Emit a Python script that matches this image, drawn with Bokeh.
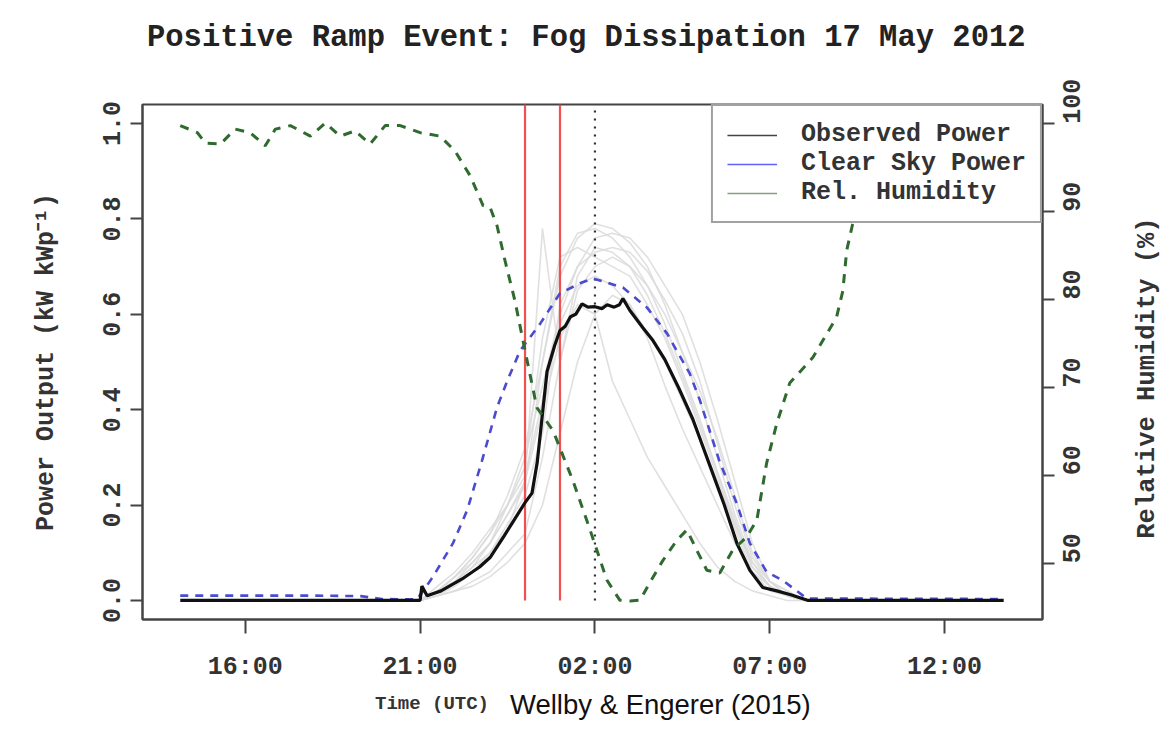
from bokeh.plotting import figure
from bokeh.models import Range1d, LinearAxis, FixedTicker, Legend, LegendItem, Div
from bokeh.layouts import column, row
from bokeh.embed import file_html
from bokeh.resources import INLINE
import math

# ---------------- data (hours since 00:00 UTC 16 May; 24 = 00:00 17 May) ----------------
obs_time = [14.14, 21.0, 21.05, 21.2, 21.6, 22.2, 22.7, 23.0, 23.4, 23.7, 24.0, 24.2, 24.35,
            24.63, 24.85, 25.0, 25.15, 25.3, 25.45, 25.63, 25.8, 26.0, 26.2, 26.35, 26.55,
            26.7, 26.8, 27.0, 27.37, 27.66, 28.0, 28.4, 28.8, 29.3, 29.7, 30.06, 30.43,
            30.8, 31.2, 31.6, 32.1, 37.69]
obs_power = [0.0, 0.0, 0.03, 0.01, 0.02, 0.045, 0.07, 0.09, 0.135, 0.17, 0.205, 0.225, 0.29,
             0.48, 0.535, 0.566, 0.575, 0.595, 0.6, 0.622, 0.615, 0.616, 0.612, 0.62, 0.615,
             0.62, 0.633, 0.608, 0.572, 0.545, 0.505, 0.445, 0.38, 0.28, 0.2, 0.12, 0.063,
             0.027, 0.02, 0.012, 0.0, 0.0]

clear_time = [14.14, 18.0, 19.3, 19.9, 20.9, 21.09, 21.37, 21.94, 22.35, 22.77, 23.2, 23.49,
              23.86, 24.43, 25.0, 25.57, 25.94, 26.14, 26.8, 27.49, 28.06, 28.71, 29.0,
              29.57, 30.06, 30.43, 30.91, 31.37, 32.06, 37.69]
clear_power = [0.01, 0.01, 0.009, 0.003, 0.002, 0.02, 0.05, 0.12, 0.19, 0.293, 0.405, 0.46,
               0.524, 0.58, 0.644, 0.665, 0.675, 0.671, 0.656, 0.614, 0.56, 0.476, 0.42,
               0.29, 0.203, 0.12, 0.06, 0.042, 0.004, 0.003]

rh_time = [14.14, 14.63, 14.86, 15.29, 15.71, 16.14, 16.57, 16.86, 17.29, 17.86, 18.29, 18.71,
           19.14, 19.57, 20.0, 20.43, 21.0, 21.57, 22.0, 22.43, 22.8, 23.0, 23.2, 23.43,
           23.71, 24.0, 24.34, 24.8, 25.37, 25.86, 26.34, 26.71, 27.0, 27.29, 27.57, 27.94,
           28.34, 28.63, 28.91, 29.2, 29.57, 29.94, 30.34, 30.63, 30.91, 31.2, 31.57, 32.23,
           32.91, 33.09, 33.2, 33.37, 33.8, 34.5, 35.5, 36.5, 37.69]
rh_value = [99.8, 99.0, 97.8, 97.7, 99.4, 99.0, 97.5, 99.4, 99.8, 98.6, 100.1, 98.6,
            99.2, 97.7, 99.8, 99.8, 99.0, 98.6, 96.9, 94.1, 90.7, 90.5, 88.4, 84.4,
            79.9, 74.2, 67.7, 65.1, 59.4, 53.8, 48.1, 45.8, 45.7, 45.8, 47.8, 50.3,
            52.6, 53.8, 51.5, 49.2, 48.9, 51.5, 53.0, 54.9, 61.4, 65.9, 70.5, 73.4,
            78.0, 81.0, 85.6, 88.6, 93.0, 96.0, 98.0, 99.0, 99.5]

# other days (grey background curves), half-hourly from 21:00 to 08:00
other_time = [21.0, 21.5, 22.0, 22.5, 23.0, 23.5, 24.0, 24.5, 25.0, 25.5, 26.0, 26.5, 27.0,
              27.5, 28.0, 28.5, 29.0, 29.5, 30.0, 30.5, 31.0, 31.5, 32.0]
other_days = [
    [0, 0.02, 0.05, 0.09, 0.14, 0.22, 0.32, 0.50, 0.68, 0.76, 0.79, 0.78, 0.75, 0.70, 0.62, 0.52, 0.42, 0.30, 0.18, 0.08, 0.03, 0.01, 0],
    [0, 0.02, 0.04, 0.08, 0.12, 0.20, 0.30, 0.45, 0.60, 0.70, 0.76, 0.77, 0.76, 0.72, 0.66, 0.60, 0.50, 0.38, 0.25, 0.12, 0.04, 0.01, 0],
    [0, 0.01, 0.03, 0.06, 0.10, 0.15, 0.25, 0.40, 0.55, 0.62, 0.60, 0.46, 0.38, 0.30, 0.24, 0.18, 0.12, 0.07, 0.04, 0.02, 0.01, 0, 0],
    [0, 0.03, 0.06, 0.10, 0.15, 0.20, 0.28, 0.55, 0.72, 0.74, 0.72, 0.70, 0.68, 0.62, 0.55, 0.46, 0.36, 0.26, 0.15, 0.06, 0.02, 0.01, 0],
    [0, 0.01, 0.02, 0.04, 0.06, 0.10, 0.14, 0.30, 0.50, 0.65, 0.70, 0.72, 0.70, 0.66, 0.60, 0.52, 0.44, 0.34, 0.22, 0.10, 0.04, 0.01, 0],
    [0, 0.02, 0.05, 0.08, 0.12, 0.18, 0.25, 0.78, 0.50, 0.68, 0.74, 0.73, 0.70, 0.64, 0.56, 0.47, 0.37, 0.27, 0.17, 0.07, 0.03, 0.01, 0],
    [0, 0.02, 0.04, 0.07, 0.10, 0.16, 0.22, 0.35, 0.62, 0.70, 0.73, 0.74, 0.73, 0.69, 0.63, 0.56, 0.46, 0.33, 0.20, 0.09, 0.04, 0.02, 0],
    [0, 0.02, 0.05, 0.09, 0.14, 0.20, 0.26, 0.42, 0.58, 0.66, 0.68, 0.66, 0.62, 0.56, 0.50, 0.42, 0.34, 0.25, 0.16, 0.08, 0.04, 0.02, 0],
    [0, 0.01, 0.02, 0.03, 0.05, 0.08, 0.12, 0.20, 0.35, 0.50, 0.60, 0.64, 0.62, 0.55, 0.45, 0.36, 0.28, 0.20, 0.12, 0.06, 0.03, 0.01, 0],
    [0, 0.02, 0.04, 0.07, 0.12, 0.18, 0.24, 0.50, 0.70, 0.77, 0.78, 0.76, 0.72, 0.66, 0.58, 0.48, 0.38, 0.27, 0.16, 0.07, 0.03, 0.01, 0],
]

ramp_times = [24.0, 25.0]      # ramp start / end (red)
fog_clear_time = [26.0]        # dotted marker
marker_bottom = 0.0

x_ticks = [16, 21, 26, 31, 36]
x_tick_labels = ["16:00", "21:00", "02:00", "07:00", "12:00"]
power_ticks = [0.0, 0.2, 0.4, 0.6, 0.8, 1.0]
rh_ticks = [50, 60, 70, 80, 90, 100]

title_text = "Positive Ramp Event: Fog Dissipation 17 May 2012"
xlabel = "Time (UTC)"
ylabel_left = "Power Output (kW kWp\u207b\u00b9)"
ylabel_right = "Relative Humidity (%)"
credit = "Wellby & Engerer (2015)"

# ---------------- layout constants ----------------
MONO = "Liberation Mono"
TXT = "#333333"
W, H = 1169, 735
HEAD_H, FOOT_H, RIGHT_W = 70, 45, 40
FRAME_L, FRAME_R, FRAME_T, FRAME_B = 142, 1042, 104, 619
P_H = H - HEAD_H - FOOT_H
P_W = W - RIGHT_W

x0, x1 = 13.06, 38.8
y0, y1 = -0.04, 1.04
p = figure(width=P_W, height=P_H, output_backend="svg", toolbar_location=None, title=None,
           x_range=Range1d(x0, x1), y_range=Range1d(y0, y1),
           min_border_left=FRAME_L, min_border_right=P_W - FRAME_R,
           min_border_top=FRAME_T - HEAD_H, min_border_bottom=P_H - (FRAME_B - HEAD_H))
p.extra_y_ranges = {"rh": Range1d(43.6, 102.2)}
p.grid.visible = False
p.outline_line_color = "#444444"
p.outline_line_width = 2
p.background_fill_color = "white"
p.border_fill_color = "white"

def style_axis(ax, tick_out, standoff):
    ax.axis_line_color = "#444444"
    ax.axis_line_width = 2
    ax.major_tick_line_color = "#444444"
    ax.major_tick_line_width = 2
    ax.major_tick_out = tick_out
    ax.major_tick_in = 0
    ax.minor_tick_line_color = None
    ax.major_label_text_font = MONO
    ax.major_label_text_font_style = "bold"
    ax.major_label_text_font_size = "25px"
    ax.major_label_text_color = TXT
    ax.major_label_standoff = standoff
    ax.axis_label_text_font = MONO
    ax.axis_label_text_font_style = "bold"
    ax.axis_label_text_font_size = "25px"
    ax.axis_label_text_color = TXT

xa = p.xaxis[0]
xa.ticker = FixedTicker(ticks=x_ticks)
xa.major_label_overrides = {t: l for t, l in zip(x_ticks, x_tick_labels)}
style_axis(xa, 14, 19)

ya = p.yaxis[0]
ya.ticker = FixedTicker(ticks=power_ticks)
ya.major_label_overrides = {t: f"{t:.1f}" for t in power_ticks}
ya.major_label_orientation = "vertical"
style_axis(ya, 12, 10)
ya.axis_label = ylabel_left
ya.axis_label_standoff = 40

ra = LinearAxis(y_range_name="rh", ticker=FixedTicker(ticks=rh_ticks))
ra.major_label_orientation = math.pi / 2
style_axis(ra, 12, 17)
p.add_layout(ra, "right")

# ---------------- glyphs ----------------
for vals in other_days:
    p.line(other_time, vals, line_color="#dadada", line_width=1.6, line_alpha=0.85)

p.segment(x0=ramp_times, y0=[marker_bottom] * len(ramp_times), x1=ramp_times,
          y1=[y1] * len(ramp_times), line_color="#f0504f", line_width=2.2)
p.segment(x0=fog_clear_time, y0=[marker_bottom], x1=fog_clear_time, y1=[y1],
          line_color="#333333", line_width=2.2, line_dash="2 6")

p.line(clear_time, clear_power, line_color="#4b4bcf", line_width=2.6, line_dash="8 7")
p.line(obs_time, obs_power, line_color="#111111", line_width=3.2)
p.line(rh_time, rh_value, y_range_name="rh", line_color="#2f6a2f", line_width=3,
       line_dash="9 8")

# legend proxies: single-point lines (draw nothing in the plot, but give legend glyphs)
r_obs = p.line(obs_time[:1], obs_power[:1], line_color="#444444", line_width=1.6)
r_clr = p.line(clear_time[:1], clear_power[:1], line_color="#6060ff", line_width=1.6)
r_rh = p.line(rh_time[:1], rh_value[:1], y_range_name="rh", line_color="#80a080", line_width=1.6)
legend = Legend(items=[LegendItem(label="Observed Power", renderers=[r_obs]),
                       LegendItem(label="Clear Sky Power", renderers=[r_clr]),
                       LegendItem(label="Rel. Humidity", renderers=[r_rh])],
                location="top_right", margin=0, padding=14, spacing=0,
                glyph_width=50, glyph_height=20, label_height=20, label_standoff=24,
                label_text_font=MONO, label_text_font_style="bold",
                label_text_font_size="25px", label_text_color=TXT,
                border_line_color="#444444", border_line_width=2,
                background_fill_color="white", background_fill_alpha=1.0)
p.add_layout(legend)

# ---------------- header (title), right label and footer (x-axis title, credit) ----------------
header_html = (
    f'<div style="position:relative;width:{W}px;height:{HEAD_H}px;background:white;">'
    f'<span style="position:absolute;left:147px;top:23px;line-height:1;white-space:nowrap;'
    f'font-family:\'Liberation Mono\';font-weight:bold;font-size:30.5px;color:#222222;">'
    f'{title_text}</span></div>'
)
header = Div(text=header_html, width=W, height=HEAD_H, margin=0)

right_html = (
    f'<div style="position:relative;width:{RIGHT_W}px;height:{P_H}px;background:white;">'
    f'<span style="position:absolute;left:19px;top:{378 - HEAD_H}px;line-height:1;'
    f'white-space:nowrap;transform:translate(-50%,-50%) rotate(-90deg);'
    f'font-family:\'Liberation Mono\';font-weight:bold;font-size:25.5px;color:{TXT};">'
    f'{ylabel_right}</span></div>'
)
right_lab = Div(text=right_html, width=RIGHT_W, height=P_H, margin=0)

footer_html = (
    f'<div style="position:relative;width:{W}px;height:{FOOT_H}px;background:white;">'
    f'<span style="position:absolute;left:375px;top:5px;line-height:1;white-space:nowrap;'
    f'font-family:\'Liberation Mono\';font-weight:bold;font-size:19px;color:{TXT};">{xlabel}</span>'
    f'<span style="position:absolute;left:510px;top:1px;line-height:1;white-space:nowrap;'
    f'font-family:\'Liberation Sans\';font-size:27.5px;color:#111111;">'
    f'{credit.replace("&", "&amp;")}</span></div>'
)
footer = Div(text=footer_html, width=W, height=FOOT_H, margin=0)

layout = column(header, row(p, right_lab, spacing=0), footer, spacing=0)
open("out.html", "w").write(file_html(layout, INLINE))
